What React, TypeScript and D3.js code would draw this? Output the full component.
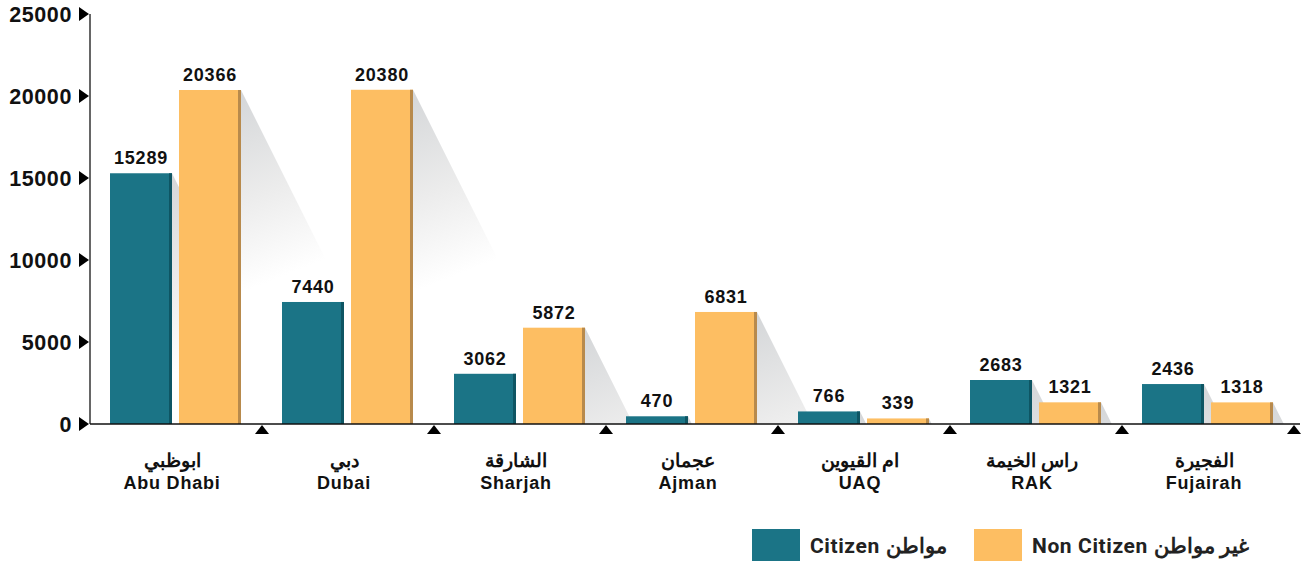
import React from "react";
import * as d3 from "d3";

const categoriesAr = ["ابوظبي", "دبي", "الشارقة", "عجمان", "ام القيوين", "راس الخيمة", "الفجيرة"];
const categoriesEn = ["Abu Dhabi", "Dubai", "Sharjah", "Ajman", "UAQ", "RAK", "Fujairah"];
const citizen = [15289, 7440, 3062, 470, 766, 2683, 2436];
const nonCitizen = [20366, 20380, 5872, 6831, 339, 1321, 1318];
const yTicks = [0, 5000, 10000, 15000, 20000, 25000];
const seriesNames = ["Citizen مواطن", "Non Citizen غير مواطن"];
const seriesColors = ["#1b7486", "#fdbe62"];
const edgeColors = ["#0e5563", "#b88a4c"];

const W = 1315, H = 564;
const x0 = 90, x1 = 1294, yTop = 14, yBase = 424;

export default function App() {
  const y = d3.scaleLinear().domain([0, 25000]).range([yBase, yTop]);
  const band = d3.scaleBand<number>().domain(d3.range(categoriesEn.length)).range([x0, x1]).paddingInner(0).paddingOuter(0);
  const bw = band.bandwidth();
  const barW = 62;
  const offs = [20 / 172, 89 / 172];
  const series = [citizen, nonCitizen];
  const numFont = "'Liberation Sans', Arial, sans-serif";

  const bars: any[] = [];
  series.forEach((vals, s) => {
    vals.forEach((v, i) => {
      const bx = (band(i) as number) + offs[s] * bw;
      bars.push({ s, i, v, x: bx, top: y(v) });
    });
  });

  return (
    <div style={{ position: "absolute", left: 0, top: 0 }}>
      <svg width={W} height={H} style={{ display: "block", background: "#fff" }}>
        <defs>
          {bars.map((b, k) => {
            const r = b.x + barW;
            return (
              <linearGradient key={"g" + k} id={"sg" + k} gradientUnits="userSpaceOnUse"
                x1={r} y1={b.top} x2={r + 70} y2={b.top + 175}>
                <stop offset="0" stopColor="#d4d6d8" />
                <stop offset="0.55" stopColor="#ececec" />
                <stop offset="1" stopColor="#ffffff" />
              </linearGradient>
            );
          })}
        </defs>
        {/* shadows */}
        {bars.map((b, k) => {
          const r = b.x + barW;
          const len = (yBase - b.top) * 0.5;
          return (
            <polygon key={"sh" + k}
              points={`${r},${b.top} ${r + len},${yBase} ${r},${yBase}`}
              fill={`url(#sg${k})`} />
          );
        })}
        {/* bars */}
        {bars.map((b, k) => (
          <g key={"b" + k}>
            <rect x={b.x} y={b.top} width={barW} height={yBase - b.top} fill={seriesColors[b.s]} />
            <rect x={b.x + barW - 3} y={b.top} width={3} height={yBase - b.top} fill={edgeColors[b.s]} />
            <text x={b.x + barW / 2} y={b.top - 9} textAnchor="middle" fontFamily={numFont}
              fontWeight="bold" fontSize={18} letterSpacing={0.8} fill="#111">{b.v}</text>
          </g>
        ))}
        {/* y axis */}
        <line x1={x0} x2={x0} y1={yTop} y2={yBase} stroke="#333" strokeWidth={1.5} />
        {yTicks.map((t) => (
          <g key={"yt" + t}>
            <path d={`M${79},${y(t) - 7} L${89},${y(t)} L${79},${y(t) + 7} Z`} fill="#000" />
            <text x={72} y={y(t) + 7.5} textAnchor="end" fontFamily={numFont} fontWeight="bold"
              fontSize={21.5} letterSpacing={0.6} fill="#111">{t}</text>
          </g>
        ))}
        {/* x axis */}
        <line x1={x0} x2={1300} y1={yBase} y2={yBase} stroke="#111" strokeWidth={1.5} />
        {categoriesEn.map((c, i) => {
          const bx = (band(i) as number) + bw;
          return (
            <path key={"xt" + i} d={`M${bx - 7},${yBase + 10} L${bx},${yBase + 1} L${bx + 7},${yBase + 10} Z`} fill="#000" />
          );
        })}
        {categoriesEn.map((c, i) => {
          const cx = (band(i) as number) + 82;
          return (
            <g key={"xl" + i}>
              <text x={cx} y={467} textAnchor="middle" fontFamily={numFont} fontWeight="bold" fontSize={19} fill="#111">{categoriesAr[i]}</text>
              <text x={cx} y={489} textAnchor="middle" fontFamily={numFont} fontWeight="bold" fontSize={18} letterSpacing={0.8} fill="#111">{c}</text>
            </g>
          );
        })}
        {/* legend */}
        {seriesNames.map((n, s) => {
          const lx = [752, 974][s];
          return (
            <g key={"lg" + s}>
              <rect x={lx} y={529} width={48} height={32} fill={seriesColors[s]} />
              <text x={lx + 58} y={553} fontFamily="Roboto, 'Noto Sans', sans-serif" fontWeight="bold" fontSize={21} letterSpacing={0.6} fill="#222" direction="ltr">{n}</text>
            </g>
          );
        })}
      </svg>
    </div>
  );
}
